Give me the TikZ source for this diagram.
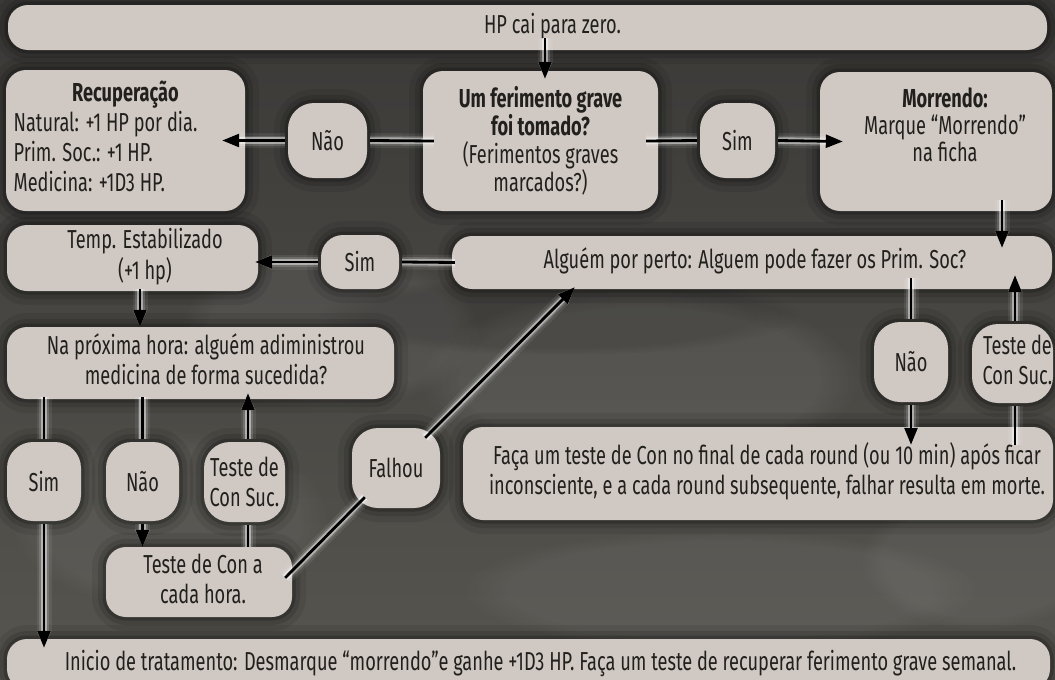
\documentclass[tikz,border=0pt]{standalone}
\usepackage{fontspec}
\setmainfont{Fira Sans}[FakeStretch=0.70]
\usetikzlibrary{arrows.meta,fadings}
\definecolor{boxc}{HTML}{CFC8C3}
\definecolor{bgtop}{HTML}{3A3937}
\definecolor{bgmid}{HTML}{5B5955}
\definecolor{bgbot}{HTML}{57554F}
\definecolor{txtc}{HTML}{22201D}
\newcommand\padl[2]{\begin{tabular}{@{\hspace{#1}}c@{}}#2\end{tabular}}
\begin{document}
\begin{tikzpicture}[x=1pt,y=-1pt,
  base/.style={fill=boxc, text=txtc, inner sep=0pt, align=center,
    font=\fontsize{26}{30}\selectfont,
    preaction={draw=black, line width=28pt, opacity=0.08},
    preaction={draw=black, line width=16pt, opacity=0.12},
    preaction={draw=black, line width=7pt, opacity=0.20}},
  box/.style={base, rounded corners=20pt},
  bub/.style={base, rounded corners=26pt},
  txt/.style={text=txtc, inner sep=0pt, align=center, font=\fontsize{26}{27}\selectfont},
  ln/.style={line width=2.8pt, draw=black,
    preaction={draw=white, line width=15pt, opacity=0.07},
    preaction={draw=white, line width=10pt, opacity=0.15},
    preaction={draw=white, line width=6.5pt, opacity=0.45}},
  arr/.style={ln, -{Triangle[length=17pt,width=13pt]}},
  blob/.style={fill=white, path fading=circle with fuzzy edge 20 percent}
]
\useasboundingbox (0,0) rectangle (1055,680);
\clip (0,0) rectangle (1055,680);
\shade[top color=bgtop, middle color=bgmid, bottom color=bgbot] (0,0) rectangle (1055,680);
% mottled background
\fill[blob, opacity=0.07] (640,380) ellipse [x radius=220pt, y radius=90pt];
\fill[blob, opacity=0.06] (330,330) ellipse [x radius=150pt, y radius=80pt];
\fill[blob, opacity=0.05] (720,590) ellipse [x radius=260pt, y radius=60pt];
\fill[blob, opacity=0.05] (170,520) ellipse [x radius=160pt, y radius=90pt];
\fill[blob, opacity=0.05] (980,560) ellipse [x radius=120pt, y radius=70pt];
\fill[black, path fading=circle with fuzzy edge 20 percent, opacity=0.10] (560,315) ellipse [x radius=240pt, y radius=40pt];

% boxes
\node[box, minimum width=1039pt, minimum height=45pt] (hp) at (527.5,27.5) {\padl{50pt}{HP cai para zero.}};
\node[box, minimum width=239pt, minimum height=141pt] (rec) at (125.5,140.5)
  {\begin{tabular}{@{}l@{\hspace{40pt}}}\multicolumn{1}{@{}c@{}}{\textbf{Recuperação}}\\Natural: +1 HP por dia.\\Prim. Soc.: +1 HP.\\Medicina: +1D3 HP.\end{tabular}};
\node[box, minimum width=235pt, minimum height=140pt, font=\fontsize{26}{28}\selectfont] (q) at (540.5,141)
  {\textbf{Um ferimento grave}\\\textbf{foi tomado?}\\(Ferimentos graves\\marcados?)};
\node[box, minimum width=232pt, minimum height=139pt] (mor) at (936,141.5) {};
\node[txt] (morT) at (945,125) {\textbf{Morrendo:}\\Marque “Morrendo”\\na ficha};
\node[bub, minimum width=79pt, minimum height=75pt] (nao1) at (327.5,140.5) {Não};
\node[bub, minimum width=75pt, minimum height=75pt] (sim1) at (737.5,140.5) {Sim};

\node[box, minimum width=251pt, minimum height=66pt] (temp) at (132.5,258) {\padl{25pt}{Temp. Estabilizado\\(+1 hp)}};
\node[bub, minimum width=78pt, minimum height=54pt, rounded corners=22pt] (sim2) at (360,262) {Sim};
\node[box, minimum width=600pt, minimum height=53pt] (alg) at (752,262.5) {\padl{6pt}{Alguém por perto: Alguem pode fazer os Prim. Soc?}};

\node[box, minimum width=387pt, minimum height=72pt] (na) at (200.5,363) {\padl{11pt}{Na próxima hora: alguém adiministrou\\medicina de forma sucedida?}};
\node[bub, minimum width=74pt, minimum height=79pt] (sim3) at (44,481.5) {Sim};
\node[bub, minimum width=73pt, minimum height=79pt] (nao3) at (142.5,481.5) {Não};
\node[bub, minimum width=81pt, minimum height=80pt] (teste3) at (244.5,482) {Teste de\\Con Suc.};
\node[box, minimum width=186pt, minimum height=70pt] (cada) at (199,582) {\padl{8pt}{Teste de Con a\\cada hora.}};
\node[bub, minimum width=88pt, minimum height=80pt] (falhou) at (396,468) {Falhou};

\node[bub, minimum width=74pt, minimum height=80pt] (nao2) at (911,362) {Não};
\node[bub, minimum width=81pt, minimum height=79pt] (teste2) at (1012.5,363.5) {\padl{10pt}{Teste de\\Con Suc.}};
\node[box, minimum width=590pt, minimum height=93pt] (faca) at (758,473.5)
  {\padl{18pt}{Faça um teste de Con no final de cada round (ou 10 min) após ficar\\inconsciente, e a cada round subsequente, falhar resulta em morte.}};
\node[box, minimum width=1043pt, minimum height=50pt] (ini) at (528.5,664)
  {\padl{24pt}{Inicio de tratamento: Desmarque “morrendo”e ganhe +1D3 HP. Faça um teste de recuperar ferimento grave semanal.}};

% connectors
\coordinate (a1) at ([xshift=17.5pt,yshift=12pt]hp.south);
\draw[arr, shorten >=-8pt] (a1) -- (a1 |- q.north);
\draw[ln] ([xshift=11pt]q.west) -- ([xshift=3pt]nao1.east);
\draw[arr] ([xshift=-3pt]nao1.west) -- ([xshift=-23pt]rec.east);
\draw[ln] ([xshift=-12pt]q.east) -- ([xshift=-3pt]sim1.west);
\draw[arr] ([xshift=3pt]sim1.east) -- ([xshift=23pt]mor.west);
\coordinate (a2) at ([xshift=66pt,yshift=11pt]mor.south);
\draw[arr, shorten >=-12pt] (a2) -- (a2 |- alg.north);
\draw[ln] ([xshift=3pt]alg.west) -- ([xshift=3pt]sim2.east);
\draw[arr, shorten <=3pt, shorten >=-3pt] (sim2.west) -- (sim2.west -| temp.east);
\coordinate (a3) at ([xshift=7.5pt,yshift=2pt]temp.south);
\draw[arr] (a3) -- (a3 |- na.north);
\draw[ln, shorten <=-2pt, shorten >=3pt] (sim3.north |- na.south) -- (sim3.north);
\draw[arr, shorten <=3pt, shorten >=-9pt] (sim3.south) -- (sim3.south |- ini.north);
\draw[ln, shorten <=-2pt, shorten >=3pt] (nao3.north |- na.south) -- (nao3.north);
\draw[arr, shorten <=3pt] (nao3.south) -- (nao3.south |- cada.north);
\coordinate (a4) at ([xshift=3.5pt]teste3.north);
\coordinate (a5) at ([xshift=3.5pt]teste3.south);
\draw[arr, shorten <=3pt, shorten >=-6pt] (a4) -- (a4 |- na.south);
\draw[ln, shorten <=3pt] (a5) -- (a5 |- cada.north);
\draw[ln] ([shift={(-7pt,-31pt)}]cada.north east) -- ([shift={(13pt,11pt)}]falhou.south west);
\draw[arr] ([shift={(-15pt,-10pt)}]falhou.north east) -- ([shift={(123pt,2pt)}]alg.south west);
\draw[ln, shorten <=-11pt, shorten >=3pt] (nao2.north |- alg.south) -- (nao2.north);
\draw[arr, shorten <=3pt, shorten >=-18pt] (nao2.south) -- (nao2.south |- faca.north);
\coordinate (a6) at ([xshift=2.5pt]teste2.south);
\coordinate (a7) at ([xshift=2.5pt]teste2.north);
\draw[ln, shorten <=-18pt, shorten >=3pt] (a6 |- faca.north) -- (a6);
\draw[arr, shorten <=3pt, shorten >=-14pt] (a7) -- (a7 |- alg.south);
\end{tikzpicture}
\end{document}
